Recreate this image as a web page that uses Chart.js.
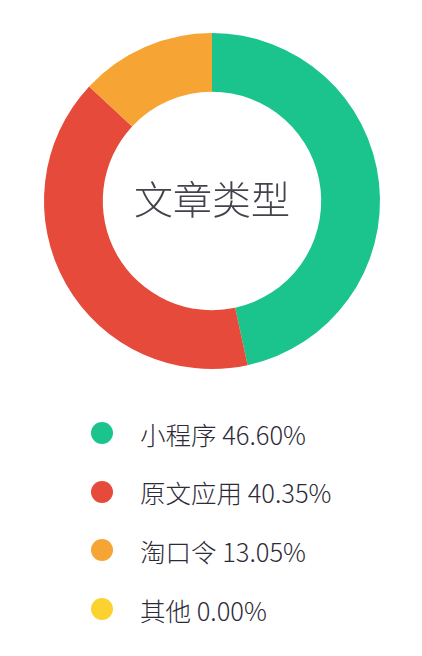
<!DOCTYPE html>
<html>
<head>
<meta charset="utf-8">
<script src="https://cdn.jsdelivr.net/npm/chart.js@4"></script>
<style>
  body { margin: 0; background: #fff; font-family: "Noto Sans CJK SC", "Noto Sans", sans-serif; }
  .chart-box { position: relative; width: 422px; height: 402px; }
  .legend { list-style: none; margin: 0; padding: 0; position: absolute; left: 0; top: 404px; width: 422px; }
  .legend li { position: absolute; left: 0; height: 30px; display: flex; align-items: center; font-size: 25.5px; color: #2e2b38; font-weight: 300; }
  .legend .dot { display: inline-block; width: 22px; height: 22px; border-radius: 50%; margin-left: 91px; margin-right: 27px; }
</style>
</head>
<body>
<div class="chart-box"><canvas id="typeChart"></canvas></div>
<ul class="legend" id="typeLegend"></ul>
<script>
// article types and their share (%)
const labels = ['小程序', '原文应用', '淘口令', '其他'];
const shares = [46.60, 40.35, 13.05, 0.00];
const colors = ['#1bc48c', '#e54a3b', '#f6a433', '#fbd230'];
const centerTitle = '文章类型';

// draw the title in the hole of the doughnut
const centerText = {
  id: 'centerText',
  afterDraw(chart) {
    const arc = chart.getDatasetMeta(0).data[0];
    if (!arc) return;
    const ctx = chart.ctx;
    ctx.save();
    ctx.font = '300 39px "Noto Sans CJK SC", sans-serif';
    ctx.fillStyle = '#45424c';
    ctx.textAlign = 'center';
    ctx.textBaseline = 'middle';
    ctx.fillText(centerTitle, arc.x, arc.y - 2);
    ctx.restore();
  }
};

const ctx = document.getElementById('typeChart').getContext('2d');
const typeChart = new Chart(ctx, {
  type: 'doughnut',
  data: {
    labels: labels,
    datasets: [{
      data: shares,
      backgroundColor: colors,
      borderWidth: 0
    }]
  },
  options: {
    responsive: true,
    maintainAspectRatio: false,
    animation: false,
    cutout: '65%',
    layout: { padding: { top: 33, bottom: 33, left: 2, right: 0 } },
    plugins: {
      legend: { display: false },
      tooltip: { enabled: false }
    }
  },
  plugins: [centerText]
});

// legend rows built from the same arrays
const legendBox = document.getElementById('typeLegend');
labels.forEach((name, i) => {
  const li = document.createElement('li');
  li.style.top = (14 + i * 58.7) + 'px';
  const dot = document.createElement('span');
  dot.className = 'dot';
  dot.style.background = colors[i];
  li.appendChild(dot);
  li.appendChild(document.createTextNode(name + ' ' + shares[i].toFixed(2) + '%'));
  legendBox.appendChild(li);
});
</script>
</body>
</html>
